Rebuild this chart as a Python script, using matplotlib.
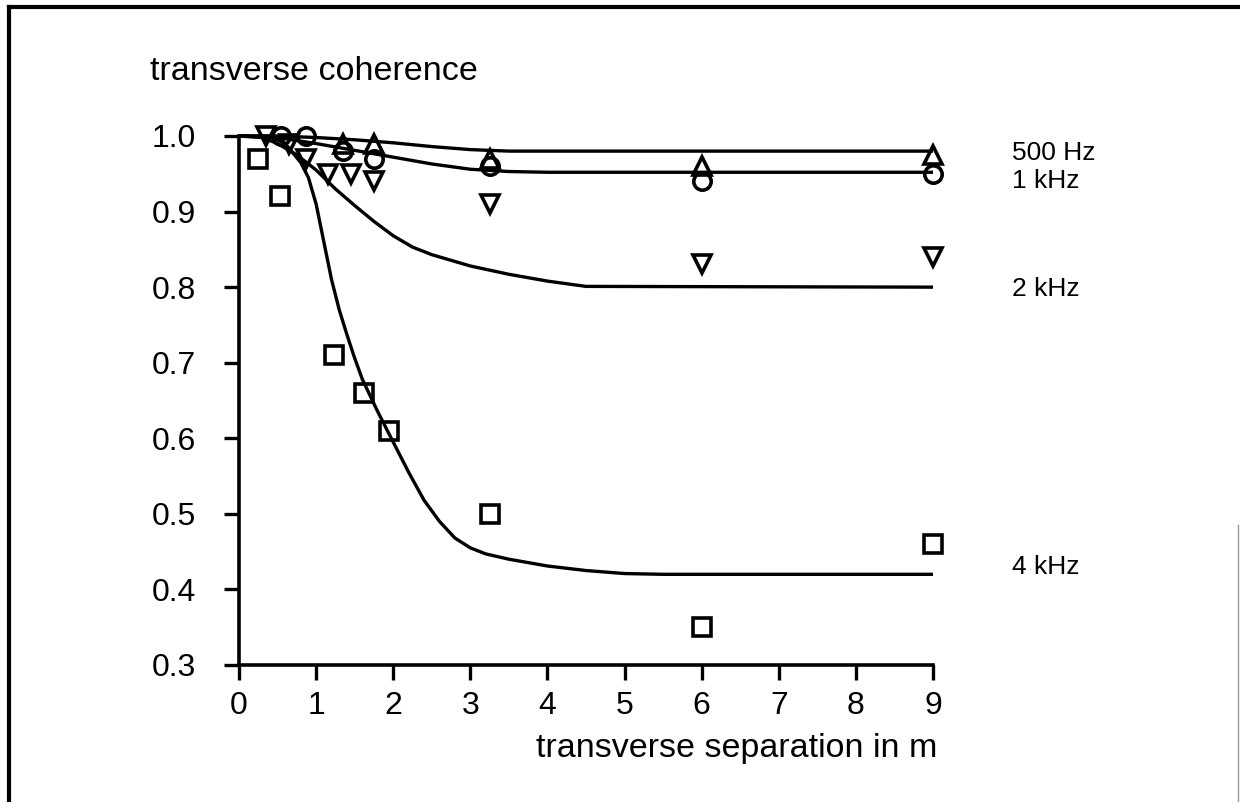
import matplotlib
matplotlib.use("Agg")
import matplotlib.pyplot as plt
from matplotlib.lines import Line2D
from matplotlib.transforms import blended_transform_factory

plt.rcParams['font.family'] = ['Liberation Sans', 'DejaVu Sans']

# ---- measured points ----
x_4k = [0.25, 0.53, 1.23, 1.62, 1.95, 3.25, 6.0, 9.0]
y_4k = [0.97, 0.92, 0.71, 0.66, 0.61, 0.50, 0.35, 0.46]

x_2k = [0.35, 0.65, 0.87, 1.15, 1.45, 1.75, 3.25, 6.0, 9.0]
y_2k = [1.0, 0.99, 0.97, 0.95, 0.95, 0.94, 0.91, 0.83, 0.84]

x_1k = [0.55, 0.87, 1.35, 1.75, 3.25, 6.0, 9.0]
y_1k = [1.0, 1.0, 0.98, 0.97, 0.96, 0.94, 0.95]

x_500 = [1.35, 1.75, 3.25, 6.0, 9.0]
y_500 = [0.99, 0.99, 0.97, 0.96, 0.975]

# ---- fitted curves ----
cx_500 = [0, 0.5, 1.0, 1.5, 2.0, 2.5, 3.0, 3.5, 4.0, 9.0]
cy_500 = [1.0, 1.0, 0.998, 0.995, 0.991, 0.986, 0.982, 0.98, 0.98, 0.98]

cx_1k = [0, 0.5, 1.0, 1.5, 2.0, 2.5, 3.0, 3.5, 4.0, 9.0]
cy_1k = [1.0, 0.998, 0.99, 0.981, 0.972, 0.963, 0.956, 0.953, 0.952, 0.952]

cx_2k = [0, 0.3, 0.5, 0.75, 1.0, 1.25, 1.5, 1.75, 2.0, 2.25, 2.5, 3.0, 3.5, 4.0, 4.5, 9.0]
cy_2k = [1.0, 0.998, 0.99, 0.975, 0.955, 0.93, 0.908, 0.887, 0.868, 0.853, 0.843, 0.828, 0.817, 0.808, 0.801, 0.80]

cx_4k = [0, 0.4, 0.6, 0.8, 0.9, 1.0, 1.1, 1.2, 1.3, 1.4, 1.5, 1.6, 1.8, 2.0, 2.2, 2.4,
         2.6, 2.8, 3.0, 3.2, 3.5, 4.0, 4.5, 5.0, 5.5, 9.0]
cy_4k = [1.0, 1.0, 0.99, 0.965, 0.945, 0.91, 0.86, 0.81, 0.77, 0.737, 0.706, 0.678, 0.635,
         0.595, 0.555, 0.518, 0.49, 0.468, 0.455, 0.447, 0.44, 0.431, 0.425, 0.421, 0.42, 0.42]

freq_labels = ["500 Hz", "1 kHz", "2 kHz", "4 kHz"]
label_y = [0.978, 0.941, 0.797, 0.43]

x_ticks = list(range(0, 10))
y_ticks = [0.3, 0.4, 0.5, 0.6, 0.7, 0.8, 0.9, 1.0]

fig = plt.figure(figsize=(12.4, 8.02), dpi=100)
ax = fig.add_axes([239/1240, (802-665)/802, (933-239)/1240, (665-136)/802])

lw = 2.4
for cx, cy in [(cx_500, cy_500), (cx_1k, cy_1k), (cx_2k, cy_2k), (cx_4k, cy_4k)]:
    ax.plot(cx, cy, color='black', lw=lw, clip_on=False, solid_capstyle='butt',
            solid_joinstyle='round')

mk = dict(color='black', linestyle='none', markersize=12.5, markeredgewidth=2.6,
          fillstyle='none', clip_on=False)
ax.plot(x_4k, y_4k, marker='s', **mk)
ax.plot(x_2k, y_2k, marker='v', **mk)
ax.plot(x_1k, y_1k, marker='o', **mk)
ax.plot(x_500, y_500, marker='^', **mk)

ax.set_xlim(0, 9)
ax.set_ylim(0.3, 1.0)
ax.set_xticks(x_ticks)
ax.set_xticklabels([str(v) for v in x_ticks])
ax.set_yticks(y_ticks)
ax.set_yticklabels([f"{v:.1f}" for v in y_ticks])

for s in ['top', 'right']:
    ax.spines[s].set_visible(False)
for s in ['left', 'bottom']:
    ax.spines[s].set_linewidth(2.6)

ax.tick_params(axis='both', direction='out', length=11, width=2.4, labelsize=23)
ax.tick_params(axis='x', pad=8)
ax.tick_params(axis='y', pad=20)

# frequency labels to the right
trans = blended_transform_factory(fig.transFigure, ax.transData)
for lab, yv in zip(freq_labels, label_y):
    ax.text(1012/1240, yv, lab, transform=trans, fontsize=19,
            ha='left', va='center', clip_on=False)

fig.text(150/1240, (802-72)/802, "transverse coherence", fontsize=24.5, ha='left', va='center')
fig.text(937/1240, (802-749)/802, "transverse separation in m", fontsize=24.5, ha='right', va='center')

# frame
fig.add_artist(Line2D([9/1240, 9/1240], [0, 1 - 7/802], transform=fig.transFigure, color='black', lw=3))
fig.add_artist(Line2D([9/1240, 1], [1 - 7/802, 1 - 7/802], transform=fig.transFigure, color='black', lw=3))
fig.add_artist(Line2D([1238/1240, 1238/1240], [0, 1 - 525/802], transform=fig.transFigure, color='#999999', lw=1))

fig.savefig("out.png", dpi=100)
